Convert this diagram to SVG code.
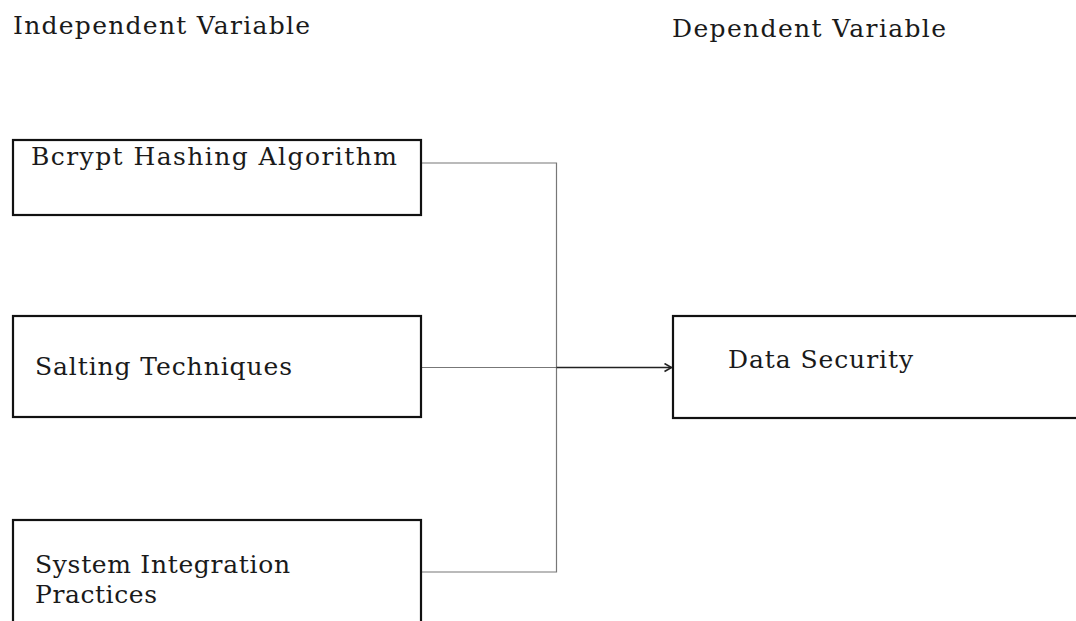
<svg xmlns="http://www.w3.org/2000/svg" width="1076" height="621" viewBox="0 0 1076 621">
<defs>
<style>
text{font-family:"DejaVu Serif","Liberation Serif",serif;font-size:25px;fill:#1a1a1a}
.box{fill:#fff;stroke:#111;stroke-width:2.2}
.wire{fill:none;stroke:#777;stroke-width:1.2}
.arrow{fill:none;stroke:#222;stroke-width:1.6}
</style>
<marker id="ah" markerWidth="10" markerHeight="10" refX="8" refY="5" orient="auto" markerUnits="userSpaceOnUse">
<path d="M1,1 L8,5 L1,9" fill="none" stroke="#222" stroke-width="1.6"/>
</marker>
</defs>
<rect width="1076" height="621" fill="#fff"/>
<text id="lbl-independent" x="13" y="34" textLength="297" lengthAdjust="spacing">Independent Variable</text>
<text id="lbl-dependent" x="672" y="37" textLength="274" lengthAdjust="spacing">Dependent Variable</text>
<g id="connectors">
<path class="wire" d="M421,163 H556.5 V572 H421"/>
<path class="wire" d="M421,367.5 H556.5"/>
<path class="arrow" d="M556.5,367.5 H671.5" marker-end="url(#ah)"/>
</g>
<g id="node-bcrypt">
<rect class="box" x="13" y="140" width="408" height="75"/>
<text x="31" y="165" textLength="366" lengthAdjust="spacing">Bcrypt Hashing Algorithm</text>
</g>
<g id="node-salting">
<rect class="box" x="13" y="316" width="408" height="101"/>
<text x="35" y="375" textLength="257" lengthAdjust="spacing">Salting Techniques</text>
</g>
<g id="node-system">
<rect class="box" x="13" y="520" width="408" height="110"/>
<text x="35" y="573" textLength="255" lengthAdjust="spacing">System Integration</text>
<text x="35" y="603" textLength="122" lengthAdjust="spacing">Practices</text>
</g>
<g id="node-data">
<rect class="box" x="673" y="316" width="420" height="102"/>
<text x="728" y="368" textLength="185" lengthAdjust="spacing">Data Security</text>
</g>
</svg>
